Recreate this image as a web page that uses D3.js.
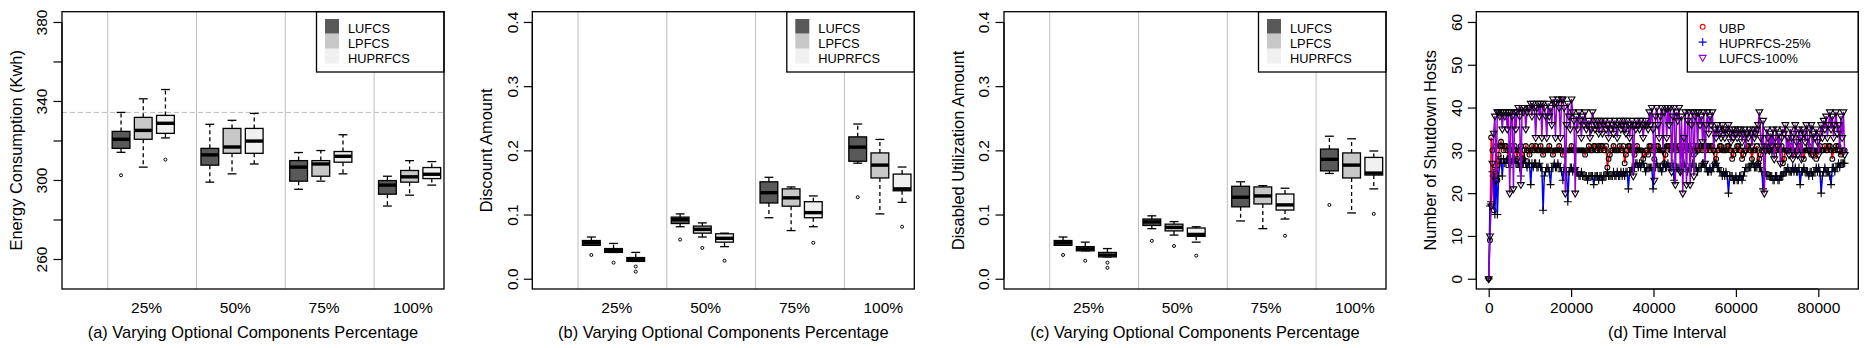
<!DOCTYPE html>
<html>
<head>
<meta charset="utf-8">
<script src="https://cdn.jsdelivr.net/npm/d3@7"></script>
<style>
    body { margin: 0; background: #fff; }
    text { font-family: "Liberation Sans", Arial, sans-serif; fill: #000; }
</style>
</head>
<body>
<div id="chart"></div>
<script>
var groups = ["25%", "50%", "75%", "100%"];
var series = ["LUFCS", "LPFCS", "HUPRFCS"];
var seriesFill = ["#595959", "#c8c8c8", "#f0f0f0"];

// box stats per group: [lower whisker, q1, median, q3, upper whisker]
var energyLUFCS = [[314.0, 316.0, 320.6, 324.6, 334.2], [298.9, 307.5, 312.7, 316.0, 328.2], [295.3, 299.4, 306.5, 309.8, 313.9], [286.8, 292.8, 297.4, 299.7, 301.9]];
var energyLPFCS = [[306.5, 320.6, 325.1, 331.7, 341.1], [303.1, 313.5, 316.7, 326.1, 330.2], [299.4, 301.9, 308.1, 309.8, 314.9], [292.3, 298.9, 301.6, 304.8, 309.8]];
var energyHUPRFCS = [[321.3, 323.6, 328.7, 332.7, 345.8], [308.1, 313.5, 319.7, 326.1, 333.7], [303.1, 309.0, 312.0, 314.4, 322.9], [297.4, 300.7, 302.9, 306.3, 309.3]];
var energyOutLUFCS = [[302.4], [], [], []];
var energyOutLPFCS = [[], [], [], []];
var energyOutHUPRFCS = [[310.3], [], [], []];
var energyRefLine = 334.2;

var discountLUFCS = [[0.052, 0.052, 0.056, 0.0595, 0.065], [0.081, 0.086, 0.092, 0.096, 0.101], [0.095, 0.118, 0.134, 0.151, 0.158], [0.180, 0.183, 0.205, 0.221, 0.241]];
var discountLPFCS = [[0.041, 0.041, 0.044, 0.047, 0.055], [0.065, 0.071, 0.077, 0.082, 0.087], [0.075, 0.113, 0.126, 0.140, 0.143], [0.101, 0.157, 0.177, 0.196, 0.217]];
var discountHUPRFCS = [[0.027, 0.027, 0.030, 0.033, 0.041], [0.050, 0.057, 0.063, 0.070, 0.071], [0.081, 0.095, 0.103, 0.120, 0.129], [0.119, 0.137, 0.140, 0.163, 0.174]];
var discountOutLUFCS = [[0.037], [0.061], [], [0.127]];
var discountOutLPFCS = [[0.025], [0.048], [], []];
var discountOutHUPRFCS = [[0.019, 0.011], [0.028], [0.056], [0.081]];

var disabledLUFCS = [[0.052, 0.052, 0.056, 0.0595, 0.065], [0.078, 0.083, 0.0885, 0.093, 0.098], [0.090, 0.112, 0.127, 0.144, 0.151], [0.164, 0.168, 0.186, 0.202, 0.222]];
var disabledLPFCS = [[0.0435, 0.0435, 0.0466, 0.050, 0.057], [0.068, 0.0745, 0.080, 0.085, 0.089], [0.078, 0.1165, 0.129, 0.143, 0.145], [0.1025, 0.157, 0.177, 0.196, 0.218]];
var disabledHUPRFCS = [[0.034, 0.034, 0.037, 0.041, 0.047], [0.057, 0.066, 0.069, 0.079, 0.081], [0.093, 0.107, 0.115, 0.132, 0.141], [0.140, 0.1615, 0.1646, 0.189, 0.199]];
var disabledOutLUFCS = [[0.037], [0.059], [], [0.115]];
var disabledOutLPFCS = [[0.028], [0.051], [], []];
var disabledOutHUPRFCS = [[0.025, 0.017], [0.036], [0.067], [0.101]];

var energyTicks = [260, 280, 300, 320, 340, 360, 380];
var energyTickLabels = [260, 300, 340, 380];
var amountTicks = [0, 0.1, 0.2, 0.3, 0.4];

// panel (d): number of shutdown hosts, one sample every 300 s (one row = 1 hour)
var sampleInterval = 300;
var hostTicksX = [0, 20000, 40000, 60000, 80000];
var hostTicksY = [0, 10, 20, 30, 40, 50, 60];
var hostSeries = ["UBP", "HUPRFCS-25%", "LUFCS-100%"];
var hostColors = ["#ff0000", "#0000ff", "#9400d3"];
var ubpHosts = [
    0, 9, 33, 30, 16, 25, 31, 23, 29, 31, 32, 31,
    30, 31, 31, 30, 28, 30, 30, 31, 30, 31, 30, 28,
    30, 30, 31, 29, 28, 30, 31, 30, 30, 29, 30, 31,
    30, 30, 31, 30, 30, 30, 31, 30, 29, 30, 30, 30,
    30, 31, 30, 30, 29, 30, 30, 30, 30, 31, 30, 30,
    29, 30, 30, 30, 30, 30, 30, 31, 30, 30, 30, 30,
    30, 30, 30, 30, 30, 30, 29, 30, 30, 31, 30, 30,
    30, 31, 31, 30, 30, 31, 30, 31, 31, 30, 30, 31,
    26, 28, 29, 30, 30, 31, 30, 30, 30, 30, 31, 30,
    30, 31, 27, 29, 30, 31, 31, 30, 30, 30, 29, 30,
    31, 30, 30, 30, 30, 28, 29, 30, 30, 29, 31, 31,
    30, 30, 28, 30, 31, 31, 30, 30, 30, 30, 27, 29,
    31, 31, 31, 30, 30, 31, 31, 31, 30, 30, 31, 30,
    30, 31, 30, 30, 31, 31, 31, 30, 30, 31, 29, 30,
    31, 31, 30, 31, 31, 30, 31, 31, 30, 31, 31, 30,
    31, 31, 30, 27, 28, 30, 30, 31, 31, 30, 30, 30,
    30, 31, 31, 30, 30, 28, 29, 30, 30, 31, 31, 30,
    30, 28, 29, 30, 30, 31, 31, 30, 30, 28, 30, 30,
    30, 31, 27, 28, 29, 30, 30, 31, 31, 30, 30, 30,
    30, 30, 31, 29, 30, 30, 31, 30, 30, 31, 27, 28,
    30, 30, 30, 30, 31, 30, 30, 29, 30, 30, 30, 31,
    31, 30, 30, 28, 30, 30, 30, 31, 30, 29, 30, 30,
    30, 28, 30, 30, 31, 30, 30, 30, 31, 30, 30, 31,
    31, 30, 28, 30, 30, 31, 30, 31, 30, 29, 30, 30,
    30];
var huprfcs25Hosts = [
    0, 17, 18, 25, 24, 15, 26, 15, 24, 27, 28, 24,
    28, 27, 27, 28, 27, 26, 27, 28, 27, 28, 27, 27,
    27, 26, 24, 27, 27, 28, 27, 26, 27, 27, 22, 27,
    26, 27, 27, 26, 26, 27, 26, 26, 16, 24, 25, 26,
    26, 25, 22, 26, 26, 27, 26, 26, 27, 26, 26, 25,
    23, 26, 26, 25, 18, 25, 26, 26, 25, 26, 26, 25,
    25, 24, 24, 25, 24, 24, 24, 24, 23, 24, 24, 24,
    24, 22, 24, 24, 24, 23, 24, 24, 23, 24, 24, 24,
    25, 24, 24, 24, 24, 25, 24, 24, 25, 24, 24, 25,
    24, 25, 24, 25, 25, 21, 25, 25, 26, 25, 26, 27,
    27, 26, 27, 26, 27, 27, 26, 25, 26, 26, 26, 26,
    26, 21, 26, 26, 27, 26, 26, 26, 25, 26, 27, 26,
    26, 27, 26, 26, 26, 27, 23, 26, 26, 26, 26, 25,
    26, 26, 27, 26, 26, 25, 26, 26, 26, 27, 26, 26,
    26, 25, 26, 26, 26, 27, 27, 26, 26, 25, 25, 26,
    25, 26, 26, 27, 27, 26, 26, 25, 25, 24, 25, 24,
    25, 24, 20, 24, 24, 24, 23, 23, 24, 23, 23, 24,
    24, 23, 24, 25, 26, 26, 26, 26, 26, 27, 27, 26,
    26, 26, 27, 26, 26, 25, 21, 25, 25, 24, 24, 24,
    24, 24, 23, 23, 24, 24, 23, 23, 24, 24, 24, 25,
    25, 25, 26, 25, 25, 25, 26, 25, 26, 25, 25, 26,
    22, 25, 25, 26, 25, 25, 25, 24, 25, 25, 24, 25,
    25, 26, 25, 26, 25, 20, 24, 25, 26, 25, 25, 25,
    24, 22, 26, 26, 25, 26, 26, 27, 26, 27, 27, 27,
    27];
var lufcs100Hosts = [
    0, 10, 17, 27, 34, 38, 23, 39, 39, 38, 39, 35,
    39, 38, 39, 35, 39, 20, 39, 38, 21, 39, 35, 39,
    40, 38, 22, 40, 39, 40, 35, 39, 40, 40, 41, 38,
    41, 40, 33, 40, 41, 38, 41, 33, 41, 40, 38, 33,
    41, 38, 40, 36, 42, 41, 33, 41, 42, 40, 33, 42,
    42, 40, 20, 36, 41, 38, 35, 42, 39, 37, 20, 38,
    35, 39, 37, 33, 38, 36, 39, 35, 36, 37, 33, 35,
    39, 37, 35, 36, 37, 34, 36, 37, 34, 36, 37, 35,
    36, 33, 37, 35, 36, 34, 37, 36, 33, 36, 37, 35,
    36, 37, 35, 34, 37, 36, 33, 36, 37, 24, 36, 35,
    37, 36, 35, 37, 36, 33, 36, 37, 36, 35, 39, 36,
    40, 35, 23, 38, 40, 36, 33, 38, 40, 30, 39, 40,
    33, 40, 36, 40, 25, 38, 40, 22, 39, 37, 40, 25,
    38, 20, 33, 39, 22, 37, 39, 22, 36, 39, 24, 38,
    39, 30, 39, 36, 38, 32, 39, 27, 36, 39, 34, 38,
    36, 39, 30, 35, 33, 36, 35, 34, 33, 36, 35, 33,
    35, 34, 36, 34, 32, 35, 33, 35, 34, 33, 35, 34,
    35, 32, 34, 35, 30, 34, 33, 35, 34, 31, 35, 33,
    34, 35, 36, 39, 33, 31, 37, 20, 30, 35, 33, 30,
    34, 31, 35, 28, 33, 35, 31, 34, 27, 33, 35, 34,
    36, 30, 33, 29, 35, 33, 28, 34, 36, 32, 29, 35,
    33, 28, 35, 34, 32, 36, 33, 30, 35, 36, 29, 34,
    33, 35, 32, 29, 34, 36, 33, 37, 35, 38, 33, 36,
    39, 35, 38, 33, 36, 39, 34, 36, 30, 38, 33, 39,
    29];

var plotTop = 11.7, plotBottom = 289, plotWidth = 382;
var tickFont = 15.5, titleFont = 16.4, legendFont = 12.8;

var svg = d3.select("#chart")
    .append("svg")
    .attr("width", 1867)
    .attr("height", 348);

function drawYAxis(g, y, L, ticks, labelled, fmt) {
    var axis = g.append("g")
        .attr("transform", "translate(" + L + ",0)")
        .call(d3.axisLeft(y)
            .tickValues(ticks)
            .tickSize(8.5)
            .tickSizeOuter(0)
            .tickFormat(function (d) {
                return labelled.indexOf(d) >= 0 ? fmt(d) : "";
            }));
    axis.attr("font-family", null).attr("font-size", null);
    axis.select(".domain").remove();
    axis.selectAll("line").attr("stroke", "#000").attr("stroke-width", 1.2);
    axis.selectAll("text")
        .attr("x", null)
        .attr("dy", null)
        .attr("fill", "#000")
        .style("font-size", tickFont + "px")
        .attr("text-anchor", "middle")
        .attr("transform", "translate(-14.8,0) rotate(-90)");
    // axis line between first and last tick
    g.append("line")
        .attr("x1", L).attr("x2", L)
        .attr("y1", y(ticks[0])).attr("y2", y(ticks[ticks.length - 1]))
        .attr("stroke", "#000").attr("stroke-width", 1.2);
}

function drawTitles(g, L, yTitle, xTitle) {
    g.append("text")
        .attr("transform", "translate(" + (L - 40) + "," + ((plotTop + plotBottom) / 2) + ") rotate(-90)")
        .attr("text-anchor", "middle")
        .style("font-size", titleFont + "px")
        .text(yTitle);
    g.append("text")
        .attr("x", L + plotWidth / 2)
        .attr("y", 337.6)
        .attr("text-anchor", "middle")
        .style("font-size", titleFont + "px")
        .text(xTitle);
}

function drawBoxPanel(p) {
    var L = p.left;
    var g = svg.append("g");

    var x = d3.scaleLinear().domain([-2.66, 14.55]).range([L, L + plotWidth]);
    var y = d3.scaleLinear().domain(p.yDomain).range([plotBottom, plotTop]);
    var unit = x(1) - x(0);

    // vertical separators
    g.selectAll("line.sep")
        .data(groups)
        .enter()
        .append("line")
        .attr("x1", function (d, i) { return x(4 * i - 0.6); })
        .attr("x2", function (d, i) { return x(4 * i - 0.6); })
        .attr("y1", plotTop).attr("y2", plotBottom)
        .attr("stroke", "#bebebe").attr("stroke-width", 1);

    if (p.refLine !== undefined) {
        g.append("line")
            .attr("x1", L).attr("x2", L + plotWidth)
            .attr("y1", y(p.refLine)).attr("y2", y(p.refLine))
            .attr("stroke", "#bebebe").attr("stroke-width", 1)
            .attr("stroke-dasharray", "5,3");
    }

    p.stats.forEach(function (stat, s) {
        stat.forEach(function (b, gi) {
            var cx = x(4 * gi + s);
            var bg = g.append("g");
            // whiskers
            [[b[3], b[4]], [b[1], b[0]]].forEach(function (w) {
                bg.append("line")
                    .attr("x1", cx).attr("x2", cx)
                    .attr("y1", y(w[0])).attr("y2", y(w[1]))
                    .attr("stroke", "#000").attr("stroke-width", 1.3)
                    .attr("stroke-dasharray", "4,3");
                bg.append("line")
                    .attr("x1", cx - 0.2 * unit).attr("x2", cx + 0.2 * unit)
                    .attr("y1", y(w[1])).attr("y2", y(w[1]))
                    .attr("stroke", "#000").attr("stroke-width", 1.3);
            });
            bg.append("rect")
                .attr("x", cx - 0.4 * unit)
                .attr("width", 0.8 * unit)
                .attr("y", y(b[3]))
                .attr("height", y(b[1]) - y(b[3]))
                .attr("fill", seriesFill[s])
                .attr("stroke", "#000").attr("stroke-width", 1.3);
            bg.append("line")
                .attr("x1", cx - 0.4 * unit).attr("x2", cx + 0.4 * unit)
                .attr("y1", y(b[2])).attr("y2", y(b[2]))
                .attr("stroke", "#000").attr("stroke-width", 3.4);
            bg.selectAll("circle")
                .data(p.outliers[s][gi])
                .enter()
                .append("circle")
                .attr("cx", cx)
                .attr("cy", function (d) { return y(d); })
                .attr("r", 1.5)
                .attr("fill", "none")
                .attr("stroke", "#000").attr("stroke-width", 1);
        });
    });

    // legend
    var lx = L + 254.5;
    g.append("rect")
        .attr("x", lx).attr("y", plotTop)
        .attr("width", L + plotWidth - lx).attr("height", 72 - plotTop)
        .attr("fill", "#fff").attr("stroke", "#000").attr("stroke-width", 1.3);
    series.forEach(function (name, s) {
        g.append("rect")
            .attr("x", L + 263).attr("y", 19 + s * 15)
            .attr("width", 14).attr("height", 14.6)
            .attr("fill", seriesFill[s]);
        g.append("text")
            .attr("x", L + 286).attr("y", 33.3 + s * 15)
            .style("font-size", legendFont + "px")
            .text(name);
    });

    g.append("rect")
        .attr("x", L).attr("y", plotTop)
        .attr("width", plotWidth).attr("height", plotBottom - plotTop)
        .attr("fill", "none").attr("stroke", "#000").attr("stroke-width", 1.3);

    drawYAxis(g, y, L, p.ticks, p.tickLabels, p.fmt);

    g.selectAll("text.cat")
        .data(groups)
        .enter()
        .append("text")
        .attr("x", function (d, i) { return x(4 * i + 1.15); })
        .attr("y", 313.3)
        .attr("text-anchor", "middle")
        .style("font-size", tickFont + "px")
        .text(function (d) { return d; });

    drawTitles(g, L, p.yTitle, p.xTitle);
}

function drawHostPanel(L) {
    var g = svg.append("g");
    var x = d3.scaleLinear().domain([-3010, 89710]).range([L, L + plotWidth]);
    var y = d3.scaleLinear().domain([-2.4, 62.4]).range([plotBottom, plotTop]);

    var data = [ubpHosts, huprfcs25Hosts, lufcs100Hosts];
    var line = d3.line()
        .x(function (d, i) { return x(i * sampleInterval); })
        .y(function (d) { return y(d); });

    function symbol(sel, k, px, py) {
        if (k === 0) {
            sel.append("circle").attr("cx", px).attr("cy", py).attr("r", 2.4)
                .attr("fill", "none");
        } else if (k === 1) {
            sel.append("path")
                .attr("d", "M" + (px - 4) + "," + py + "H" + (px + 4) + "M" + px + "," + (py - 4) + "V" + (py + 4))
                .attr("fill", "none");
        } else {
            sel.append("path")
                .attr("d", "M" + (px - 3.4) + "," + (py - 2) + "L" + (px + 3.4) + "," + (py - 2) + "L" + px + "," + (py + 3.9) + "Z")
                .attr("fill", "none");
        }
    }

    data.forEach(function (values, k) {
        g.append("path")
            .datum(values)
            .attr("d", line)
            .attr("fill", "none")
            .attr("stroke", hostColors[k])
            .attr("stroke-width", 1.5);
        var pg = g.append("g").attr("stroke", "#000").attr("stroke-width", 1.1);
        values.forEach(function (v, i) {
            symbol(pg, k, x(i * sampleInterval), y(v));
        });
    });

    // legend
    var lx = L + 211;
    g.append("rect")
        .attr("x", lx).attr("y", plotTop)
        .attr("width", L + plotWidth - lx).attr("height", 72 - plotTop)
        .attr("fill", "#fff").attr("stroke", "#000").attr("stroke-width", 1.3);
    hostSeries.forEach(function (name, k) {
        var sg = g.append("g").attr("stroke", hostColors[k]).attr("stroke-width", 1.1);
        symbol(sg, k, L + 226.4, 26.8 + k * 15.3);
        g.append("text")
            .attr("x", L + 242.7).attr("y", 32.8 + k * 15.3)
            .style("font-size", legendFont + "px")
            .text(name);
    });

    g.append("rect")
        .attr("x", L).attr("y", plotTop)
        .attr("width", plotWidth).attr("height", plotBottom - plotTop)
        .attr("fill", "none").attr("stroke", "#000").attr("stroke-width", 1.3);

    drawYAxis(g, y, L, hostTicksY, hostTicksY, function (d) { return d; });

    var xa = g.append("g")
        .attr("transform", "translate(0," + plotBottom + ")")
        .call(d3.axisBottom(x).tickValues(hostTicksX).tickSize(8).tickSizeOuter(0)
            .tickFormat(function (d) { return d; }));
    xa.attr("font-family", null).attr("font-size", null);
    xa.select(".domain").remove();
    xa.selectAll("line").attr("stroke", "#000").attr("stroke-width", 1.2);
    xa.selectAll("text")
        .attr("y", 313.3 - plotBottom)
        .attr("dy", null)
        .attr("fill", "#000")
        .style("font-size", tickFont + "px");
    g.append("line")
        .attr("x1", x(hostTicksX[0])).attr("x2", x(hostTicksX[hostTicksX.length - 1]))
        .attr("y1", plotBottom).attr("y2", plotBottom)
        .attr("stroke", "#000").attr("stroke-width", 1.2);

    drawTitles(g, L, "Number of Shutdown Hosts", "(d) Time Interval");
}

var oneDecimal = d3.format(".1f");

drawBoxPanel({
    left: 62,
    stats: [energyLUFCS, energyLPFCS, energyHUPRFCS],
    outliers: [energyOutLUFCS, energyOutLPFCS, energyOutHUPRFCS],
    refLine: energyRefLine,
    yDomain: [244.8, 385.2],
    ticks: energyTicks,
    tickLabels: energyTickLabels,
    fmt: function (d) { return d; },
    yTitle: "Energy Consumption (Kwh)",
    xTitle: "(a) Varying Optional Components Percentage"
});
drawBoxPanel({
    left: 532.3,
    stats: [discountLUFCS, discountLPFCS, discountHUPRFCS],
    outliers: [discountOutLUFCS, discountOutLPFCS, discountOutHUPRFCS],
    yDomain: [-0.016, 0.416],
    ticks: amountTicks,
    tickLabels: amountTicks,
    fmt: oneDecimal,
    yTitle: "Discount Amount",
    xTitle: "(b) Varying Optional Components Percentage"
});
drawBoxPanel({
    left: 1004,
    stats: [disabledLUFCS, disabledLPFCS, disabledHUPRFCS],
    outliers: [disabledOutLUFCS, disabledOutLPFCS, disabledOutHUPRFCS],
    yDomain: [-0.016, 0.416],
    ticks: amountTicks,
    tickLabels: amountTicks,
    fmt: oneDecimal,
    yTitle: "Disabled Utilization Amount",
    xTitle: "(c) Varying Optional Components Percentage"
});
drawHostPanel(1476.3);
</script>
</body>
</html>
